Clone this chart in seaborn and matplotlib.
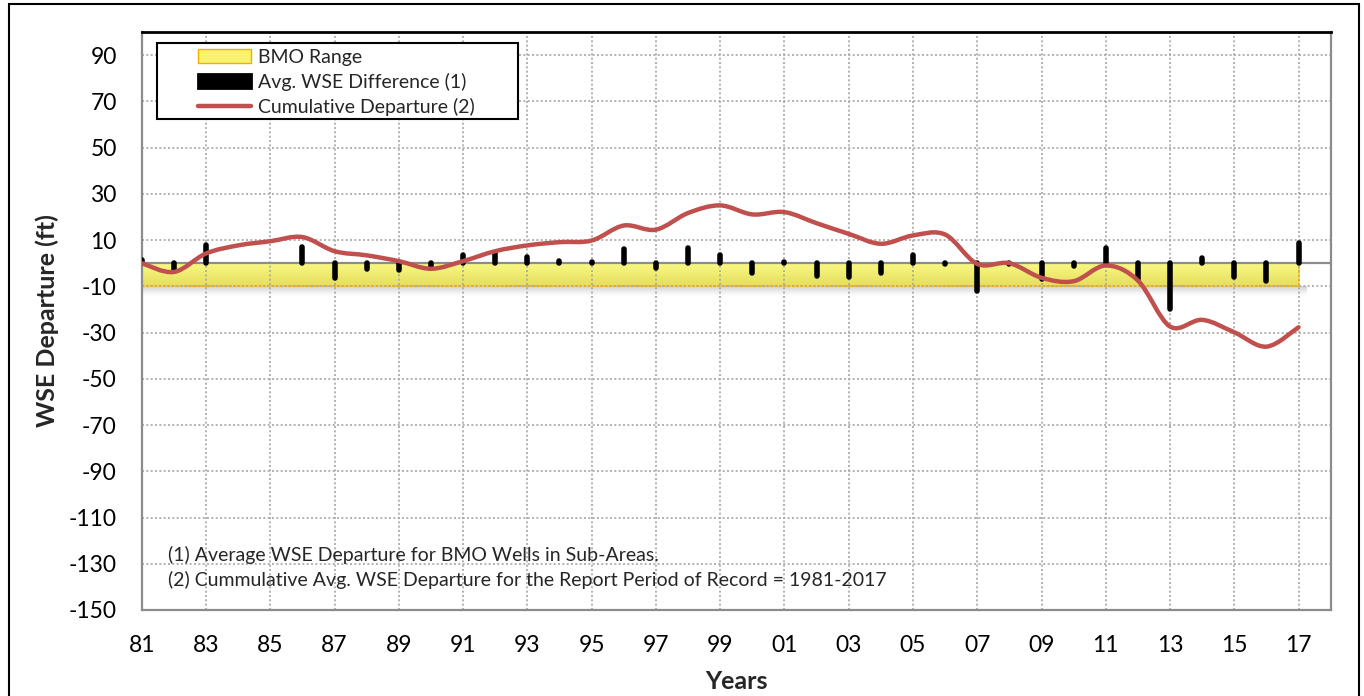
import numpy as np
import pandas as pd
import matplotlib
matplotlib.use("Agg")
import matplotlib.pyplot as plt
from matplotlib.path import Path
from matplotlib.patches import PathPatch, Patch, Rectangle
from matplotlib.lines import Line2D
import seaborn as sns

# ---- data -------------------------------------------------------------
years = list(range(1981, 2018))

# average WSE difference for BMO wells (ft), one value per year
avg_wse_diff = [1.5, -3.0, 8.0, np.nan, np.nan, 7.0, -6.5, -2.5, -3.0, -2.0,
                3.5, 4.5, 2.6, 1.0, 0.5, 6.2, -2.0, 6.7, 3.4, -4.3,
                0.7, -5.5, -5.8, -4.2, 3.5, -0.5, -12.0, -0.3, -7.0, -1.0,
                6.7, -7.0, -19.8, 2.3, -5.8, -7.5, 8.7]

# cumulative average WSE departure (ft)
cumulative = [0.0, -3.8, 4.2, 7.7, 9.5, 11.3, 5.2, 3.4, 0.9, -2.4,
              0.9, 5.2, 7.7, 9.1, 9.8, 16.3, 14.5, 21.7, 25.0, 21.1,
              22.1, 17.3, 12.7, 8.4, 12.0, 12.4, -0.3, 0.0, -6.3, -7.8,
              -1.0, -7.5, -27.4, -24.5, -29.9, -36.1, -27.7]

bmo_range = [-10, 0]

x_ticks = list(range(1981, 2018, 2))
x_tick_labels = ["81", "83", "85", "87", "89", "91", "93", "95", "97", "99",
                 "01", "03", "05", "07", "09", "11", "13", "15", "17"]
y_ticks = list(range(-150, 91, 20))

legend_labels = ["BMO Range", "Avg. WSE Difference (1)", "Cumulative Departure (2)"]
notes = ["(1) Average WSE Departure for BMO Wells in Sub-Areas.",
         "(2) Cummulative Avg. WSE Departure for the Report Period of Record = 1981-2017"]

# ---- style ------------------------------------------------------------
sns.set_theme(style="white")
plt.rcParams["font.family"] = ["Lato", "DejaVu Sans"]
plt.rcParams["axes.unicode_minus"] = False

GRAY = "#8c8c8c"
RED = "#C0504D"
ORANGE = "#F0B000"

fig = plt.figure(figsize=(13.64, 6.96), dpi=100)
ax = fig.add_axes([0.1039, 0.1236, 0.8717, 0.8304])
ax.set_xlim(1981, 2018)
ax.set_ylim(-150, 100)

# ---- BMO range band with gradient fill and soft shadow ---------------
yellow_top = np.array([0.98, 0.98, 0.52])
yellow_bot = np.array([0.90, 0.87, 0.37])
t = np.linspace(0, 1, 64)[:, None]
band_img = (yellow_top * (1 - t) + yellow_bot * t)[:, None, :]
ax.imshow(band_img, extent=[1981, 2017, bmo_range[0], bmo_range[1]],
          aspect="auto", origin="upper", zorder=0.3, interpolation="bilinear")

shadow = np.zeros((64, 1, 4))
shadow[..., :3] = 0.45
shadow[:, 0, 3] = 0.35 * (1 - np.linspace(0, 1, 64)) ** 1.5
ax.imshow(shadow, extent=[1981, 2017.25, bmo_range[0] - 4.5, bmo_range[0]],
          aspect="auto", origin="upper", zorder=0.25, interpolation="bilinear")

ax.plot([1981, 2017], [bmo_range[0]] * 2, color=ORANGE, lw=1.2,
        ls=(0, (1.5, 1)), zorder=0.6)
ax.plot([2017, 2017], bmo_range, color=ORANGE, lw=1.2,
        ls=(0, (1.5, 1)), zorder=0.6)

# zero reference line
ax.axhline(0, color=GRAY, lw=1.6, zorder=2)

# ---- yearly difference bars (one vertical stroke per year) -----------
bars = pd.DataFrame({
    "year": years * 2,
    "value": [0.0] * len(years) + avg_wse_diff,
}).dropna()
sns.lineplot(data=bars, x="year", y="value", units="year", estimator=None,
             sort=False, color="black", lw=4.0, solid_capstyle="round",
             legend=False, ax=ax, zorder=3)

# ---- smoothed cumulative departure curve -----------------------------
pts = np.column_stack([years, cumulative]).astype(float)
ext = np.vstack([pts[0], pts, pts[-1]])
verts = [tuple(pts[0])]
codes = [Path.MOVETO]
for i in range(len(pts) - 1):
    p0, p1, p2, p3 = ext[i], ext[i + 1], ext[i + 2], ext[i + 3]
    c1 = p1 + (p2 - p0) / 6.0
    c2 = p2 - (p3 - p1) / 6.0
    verts += [tuple(c1), tuple(c2), tuple(p2)]
    codes += [Path.CURVE4] * 3
ax.add_patch(PathPatch(Path(verts, codes), facecolor="none", edgecolor=RED,
                       lw=3.2, capstyle="round", joinstyle="round", zorder=4))

# ---- axes, grid, ticks ------------------------------------------------
ax.set_axisbelow(True)
ax.grid(True, color="#a6a6a6", lw=1.2, ls=(0, (1.2, 1.4)))
ax.set_xticks(x_ticks)
ax.set_xticklabels(x_tick_labels)
ax.set_yticks(y_ticks)
ax.tick_params(axis="both", direction="out", length=6, width=1.4,
               color=GRAY, labelsize=16.5, pad=12, labelcolor="black")
for side in ("left", "bottom", "right"):
    ax.spines[side].set_color(GRAY)
    ax.spines[side].set_linewidth(1.6)
ax.spines["top"].set_color("black")
ax.spines["top"].set_linewidth(2.0)

ax.set_xlabel("Years", fontsize=18, fontweight="bold", labelpad=10)
ax.set_ylabel("WSE Departure (ft)", fontsize=18, fontweight="bold", labelpad=7)

# ---- legend -----------------------------------------------------------
ax.add_patch(Rectangle((0.0129, 0.8495), 0.3036, 0.1315, transform=ax.transAxes,
                       facecolor="white", edgecolor="black", lw=1.5, zorder=5))
handles = [
    Patch(facecolor="#F7F270", edgecolor=ORANGE, lw=1.0),
    Patch(facecolor="black", edgecolor="black", lw=2.0, joinstyle="round"),
    Line2D([], [], color=RED, lw=3.2),
]
ax.legend(handles, legend_labels, loc="upper left", bbox_to_anchor=(0.0474, 0.971),
          frameon=False, borderpad=0, borderaxespad=0, fontsize=14,
          handlelength=2.7, handletextpad=0.4, labelspacing=0.36).set_zorder(6)

# ---- footnotes --------------------------------------------------------
for note, yf in zip(notes, [0.0952, 0.0519]):
    ax.text(0.0221, yf, note, transform=ax.transAxes, fontsize=14,
            va="center", ha="left", zorder=5)

# outer border around the whole graphic
fig.patches.append(Rectangle((0.0066, -0.02), 0.9897, 1.0143,
                             transform=fig.transFigure, fill=False,
                             edgecolor="black", lw=1.5))

fig.savefig("out.png", dpi=100)
